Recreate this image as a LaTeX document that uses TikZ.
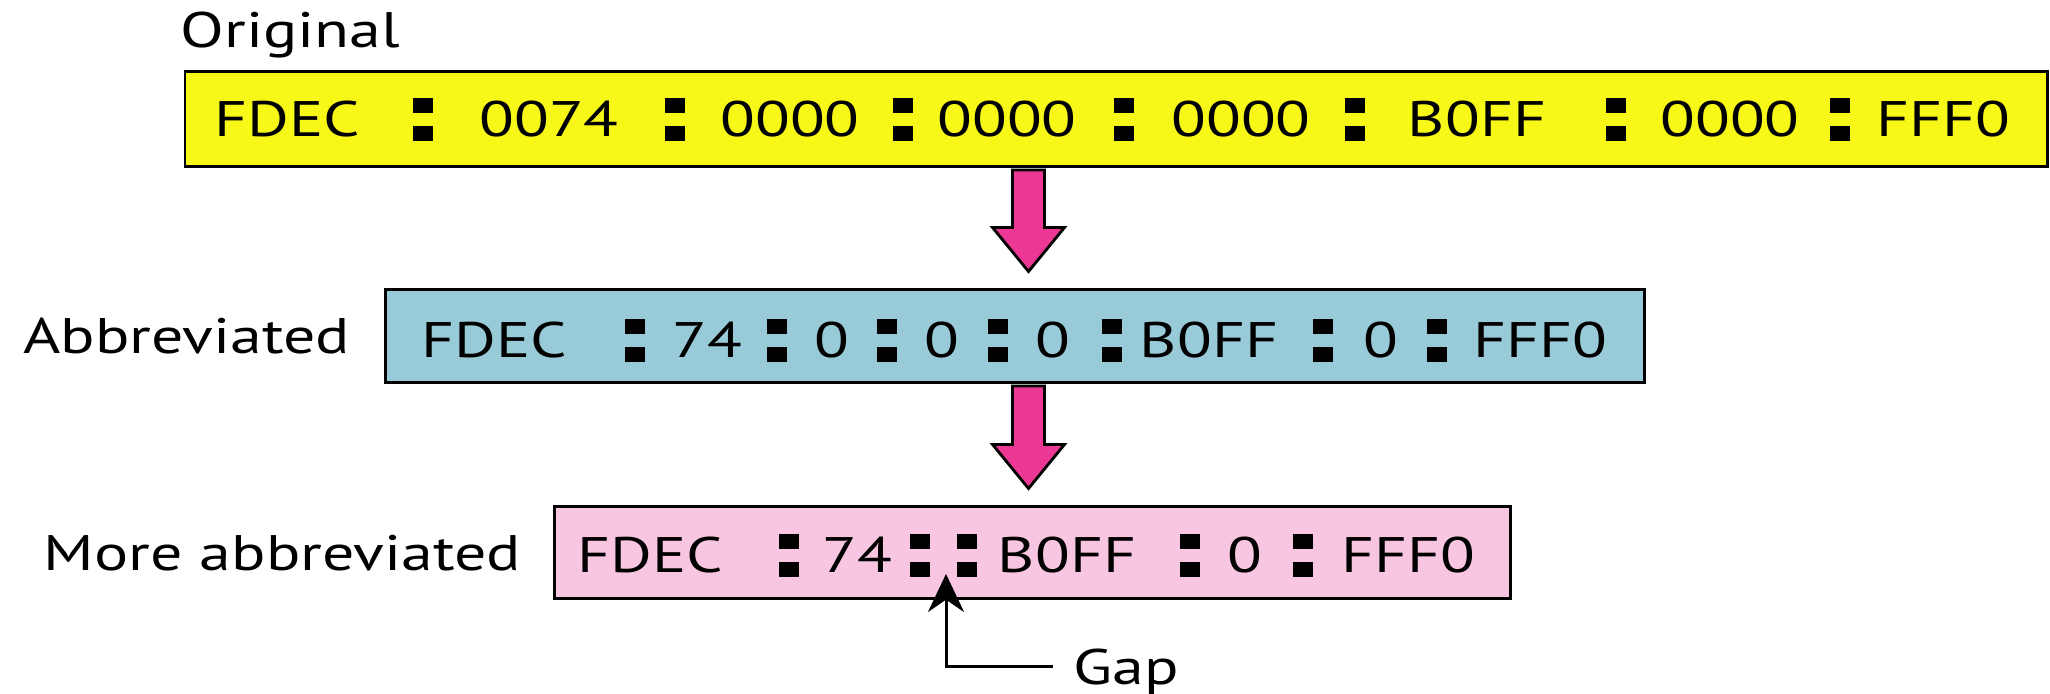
\documentclass[tikz,border=0pt]{standalone}
\usepackage{fontspec}
\setmainfont{PT Sans}[FakeStretch=1.28]
\usepackage{xcolor}
\usetikzlibrary{arrows.meta,positioning,calc}

\definecolor{origyellow}{RGB}{248,248,24}
\definecolor{abbrblue}{RGB}{152,202,216}
\definecolor{morepink}{RGB}{248,198,224}
\definecolor{arrowpink}{RGB}{236,56,148}

\newcommand{\sqcolon}{\rule[-0.04cm]{0.2cm}{0.15cm}\llap{\rule[0.235cm]{0.2cm}{0.15cm}}}
\newcommand{\fatarrow}[2]{%
  \draw[fatarrow] ($(#1)+(-0.16,0)$) -- ($(#2)+(-0.16,0.44)$) -- ($(#2)+(-0.36,0.44)$)
    -- (#2) -- ($(#2)+(0.36,0.44)$) -- ($(#2)+(0.16,0.44)$) -- ($(#1)+(0.16,0)$) -- cycle;}

\tikzset{
  addrbox/.style={draw,line width=0.85pt,inner sep=0pt},
  seg/.style={anchor=base,inner sep=0pt},
  lbl/.style={inner sep=0pt},
  fatarrow/.style={draw=black,fill=arrowpink,line width=0.8pt,line join=miter},
  gapline/.style={->,line width=0.85pt}
}

\begin{document}
\begin{tikzpicture}[>={Stealth[length=3.8mm,width=3.6mm]},font=\fontsize{14.2}{17}\selectfont]
  \useasboundingbox (0,0) rectangle (20.5,6.94);

  % the three address boxes
  \node[addrbox,fill=origyellow,minimum width=18.62cm,minimum height=0.95cm] (orig) at (11.16,5.745) {};
  \node[addrbox,fill=abbrblue,minimum width=12.59cm,minimum height=0.93cm] (abbr) at (10.145,3.575) {};
  \node[addrbox,fill=morepink,minimum width=9.56cm,minimum height=0.92cm] (more) at (10.32,1.41) {};

  % labels
  \node[lbl,anchor=base west] (origlbl) at (1.80,6.46) {Original};
  \node[lbl,left=0.33cm of abbr] (abbrlbl) {Abbreviated};
  \node[lbl,left=0.31cm of more] (morelbl) {More abbreviated};

  % original address
  \node[seg] (o1) at (2.87,5.57) {FDEC};
  \node[seg] (o2) at (4.23,5.57) {\sqcolon};
  \node[seg] (o3) at (5.49,5.57) {0074};
  \node[seg] (o4) at (6.75,5.57) {\sqcolon};
  \node[seg] (o5) at (7.90,5.57) {0000};
  \node[seg] (o6) at (9.03,5.57) {\sqcolon};
  \node[seg] (o7) at (10.07,5.57) {0000};
  \node[seg] (o8) at (11.24,5.57) {\sqcolon};
  \node[seg] (o9) at (12.41,5.57) {0000};
  \node[seg] (o10) at (13.55,5.57) {\sqcolon};
  \node[seg] (o11) at (14.77,5.57) {B0FF};
  \node[seg] (o12) at (16.16,5.57) {\sqcolon};
  \node[seg] (o13) at (17.30,5.57) {0000};
  \node[seg] (o14) at (18.40,5.57) {\sqcolon};
  \node[seg] (o15) at (19.43,5.57) {FFF0};

  % abbreviated address
  \node[seg] (a1) at (4.94,3.36) {FDEC};
  \node[seg] (a2) at (6.35,3.36) {\sqcolon};
  \node[seg] (a3) at (7.07,3.36) {74};
  \node[seg] (a4) at (7.77,3.36) {\sqcolon};
  \node[seg] (a5) at (8.32,3.36) {0};
  \node[seg] (a6) at (8.87,3.36) {\sqcolon};
  \node[seg] (a7) at (9.42,3.36) {0};
  \node[seg] (a8) at (9.98,3.36) {\sqcolon};
  \node[seg] (a9) at (10.53,3.36) {0};
  \node[seg] (a10) at (11.12,3.36) {\sqcolon};
  \node[seg] (a11) at (12.09,3.36) {B0FF};
  \node[seg] (a12) at (13.23,3.36) {\sqcolon};
  \node[seg] (a13) at (13.81,3.36) {0};
  \node[seg] (a14) at (14.37,3.36) {\sqcolon};
  \node[seg] (a15) at (15.40,3.36) {FFF0};

  % more abbreviated address
  \node[seg] (m1) at (6.50,1.21) {FDEC};
  \node[seg] (m2) at (7.89,1.21) {\sqcolon};
  \node[seg] (m3) at (8.57,1.21) {74};
  \node[seg] (m4) at (9.20,1.21) {\sqcolon};
  \node[seg] (m5) at (9.67,1.21) {\sqcolon};
  \node[seg] (m6) at (10.67,1.21) {B0FF};
  \node[seg] (m7) at (11.90,1.21) {\sqcolon};
  \node[seg] (m8) at (12.45,1.21) {0};
  \node[seg] (m9) at (13.03,1.21) {\sqcolon};
  \node[seg] (m10) at (14.08,1.21) {FFF0};

  % block arrows between the boxes
  \coordinate (axis) at (10.285,0);
  \path (axis |- orig.south) ++(0,-0.015) coordinate (a1top);
  \path (axis |- abbr.north) ++(0,0.17) coordinate (a1tip);
  \path (axis |- abbr.south) ++(0,-0.015) coordinate (a2top);
  \path (axis |- more.north) ++(0,0.17) coordinate (a2tip);
  \fatarrow{a1top}{a1tip}
  \fatarrow{a2top}{a2tip}

  % gap marker
  \node[lbl,anchor=west,inner xsep=0.2cm,text depth=0pt] (gap) at (10.53,0.27) {Gap};
  \coordinate (gaptip) at (9.46,1.2);
  \draw[gapline] (gap.west) -| (gaptip);
\end{tikzpicture}
\end{document}
